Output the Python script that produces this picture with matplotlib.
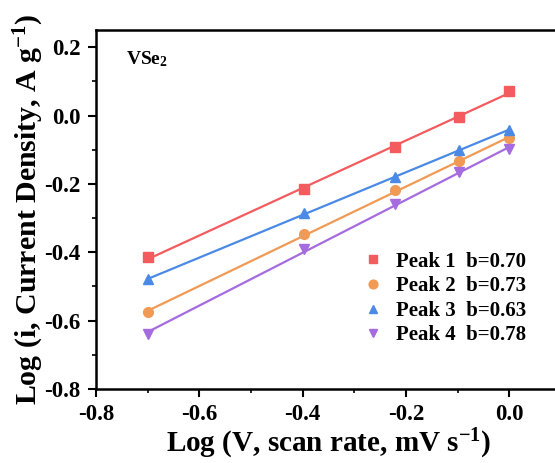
import matplotlib.pyplot as plt
import numpy as np

plt.rcParams['font.family'] = 'Liberation Serif'
plt.rcParams['font.weight'] = 'bold'
plt.rcParams['axes.unicode_minus'] = False
plt.rcParams['mathtext.fontset'] = 'custom'
plt.rcParams['mathtext.rm'] = 'Liberation Serif:bold'
plt.rcParams['mathtext.bf'] = 'Liberation Serif:bold'
plt.rcParams['mathtext.default'] = 'regular'

# log of scan rate (0.2, 0.4, 0.6, 0.8, 1.0 mV/s)
logV = [-0.699, -0.398, -0.222, -0.097, 0.0]

peak1 = [-0.415, -0.216, -0.093, -0.003, 0.073]
peak2 = [-0.575, -0.347, -0.219, -0.134, -0.067]
peak3 = [-0.479, -0.286, -0.181, -0.102, -0.041]
peak4 = [-0.639, -0.391, -0.260, -0.166, -0.099]

names = ['Peak 1', 'Peak 2', 'Peak 3', 'Peak 4']
bvals = ['0.70', '0.73', '0.63', '0.78']

colors = ['#F45B5E', '#F09A55', '#4A8AE6', '#A56BDF']
markers = ['s', 'o', '^', 'v']

fig = plt.figure(figsize=(5.55, 4.63), dpi=100)
ax = fig.add_axes([0.173, 0.160, 0.838, 0.775])

xs = np.array(logV)
for ys, name, b, c, m in zip([peak1, peak2, peak3, peak4], names, bvals, colors, markers):
    k, q = np.polyfit(xs, ys, 1)
    ax.plot(xs, k * xs + q, color=c, linewidth=1.6, zorder=2)
    ax.plot(xs, ys, linestyle='none', marker=m, color=c, markersize=7,
            label=name + '  b=' + b, zorder=3)

ax.set_xlim(-0.8, 0.1)
ax.set_ylim(-0.8, 0.25)
ax.set_xticks([-0.8, -0.6, -0.4, -0.2, 0.0])
ax.set_yticks([-0.8, -0.6, -0.4, -0.2, 0.0, 0.2])
ax.set_xticks(np.arange(-0.7, 0.1, 0.2), minor=True)
ax.set_yticks(np.arange(-0.7, 0.2, 0.2), minor=True)
ax.tick_params(which='major', direction='out', length=6, width=1.5, labelsize=16.5, pad=5)
ax.tick_params(which='minor', direction='out', length=3, width=1.2)
ax.tick_params(top=False, right=False)
for lab in ax.get_xticklabels() + ax.get_yticklabels():
    lab.set_fontweight('bold')
for s in ax.spines.values():
    s.set_linewidth(1.8)

ax.set_xlabel('Log (V, scan rate, mV s$^{-1}$)', fontsize=21, fontweight='bold', labelpad=1)
ax.set_ylabel('Log (i, Current Density, A g$^{-1}$)', fontsize=21.5, fontweight='bold', labelpad=-1)

ax.text(0.065, 0.905, 'VSe$_2$', transform=ax.transAxes, fontsize=14, fontweight='bold')

ax.legend(loc='upper left', bbox_to_anchor=(0.62, 0.497), bbox_transform=fig.transFigure,
          frameon=False, fontsize=15, handlelength=1.0, handletextpad=0.6, labelspacing=0.22,
          markerscale=0.9)

fig.savefig('out.png', dpi=100)
